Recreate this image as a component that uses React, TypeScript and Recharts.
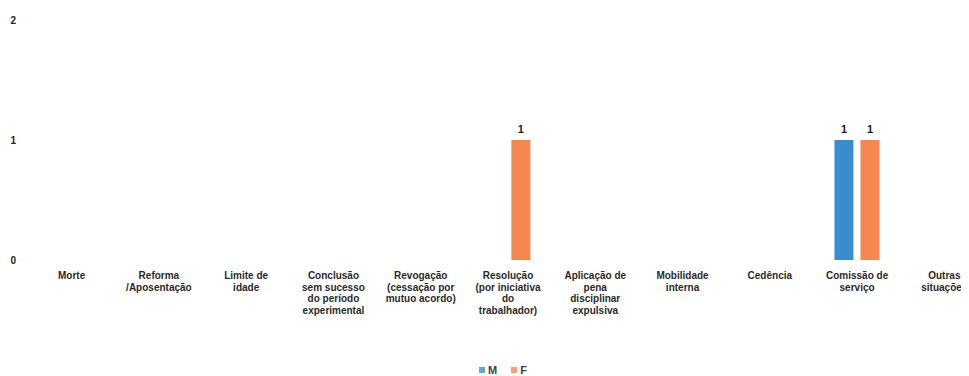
import { BarChart, Bar, XAxis, YAxis, Legend, LabelList } from 'recharts';

// categorias (quebras de linha como no gráfico original)
const categories = [
  'Morte',
  'Reforma\n/Aposentação',
  'Limite de\nidade',
  'Conclusão\nsem sucesso\ndo período\nexperimental',
  'Revogação\n(cessação por\nmutuo acordo)',
  'Resolução\n(por iniciativa\ndo\ntrabalhador)',
  'Aplicação de\npena\ndisciplinar\nexpulsiva',
  'Mobilidade\ninterna',
  'Cedência',
  'Comissão de\nserviço',
  'Outras\nsituações',
];

const valuesM = [0, 0, 0, 0, 0, 0, 0, 0, 0, 1, 0];
const valuesF = [0, 0, 0, 0, 0, 1, 0, 0, 0, 1, 0];

const yTicks = [0, 1, 2];

const COLOR_M = '#3A8DCC';
const COLOR_F = '#F5874F';
const FONT = '"Liberation Sans", Arial, sans-serif';

const chartData = categories.map((name, i) => ({
  name,
  M: valuesM[i],
  F: valuesF[i],
}));

const CategoryTick = ({ x, y, payload }: any) => {
  const lines = String(payload.value).split('\n');
  return (
    <text
      x={x}
      y={y}
      textAnchor="middle"
      fontSize={10}
      fontWeight="bold"
      fill="#2a2a2a"
      fontFamily={FONT}
    >
      {lines.map((line, i) => (
        <tspan key={i} x={x} dy={i === 0 ? 19 : 11.5}>
          {line}
        </tspan>
      ))}
    </text>
  );
};

const LegendContent = () => (
  <div
    style={{
      display: 'flex',
      justifyContent: 'center',
      alignItems: 'center',
      gap: 14,
      fontFamily: FONT,
      fontSize: 11,
      fontWeight: 'bold',
      color: '#404040',
    }}
  >
    {[
      { label: 'M', color: COLOR_M },
      { label: 'F', color: COLOR_F },
    ].map((item) => (
      <span key={item.label} style={{ display: 'flex', alignItems: 'center', gap: 3 }}>
        <span style={{ width: 6, height: 6, background: item.color, opacity: 0.8 }} />
        {item.label}
      </span>
    ))}
  </div>
);

const labelFormatter = (v: any) => (v ? v : '');

export default function App() {
  return (
    <BarChart
      width={990}
      height={376}
      data={chartData}
      margin={{ top: 12, right: 10, left: 0, bottom: 0 }}
      barSize={19}
      barGap={7}
    >
      <XAxis
        dataKey="name"
        axisLine={false}
        tickLine={false}
        tickSize={0}
        tickMargin={0}
        interval={0}
        height={104}
        tick={<CategoryTick />}
      />
      <YAxis
        domain={[0, 2]}
        ticks={yTicks}
        width={20}
        axisLine={false}
        tickLine={false}
        tickSize={0}
        tickMargin={12}
        tick={{ fontSize: 10, fontWeight: 'bold', fill: '#222', fontFamily: FONT }}
      />
      <Legend
        verticalAlign="bottom"
        height={20}
        content={<LegendContent />}
        wrapperStyle={{ left: 0, width: 990 }}
      />
      <Bar dataKey="M" fill={COLOR_M} isAnimationActive={false}>
        <LabelList
          dataKey="M"
          position="top"
          offset={7}
          formatter={labelFormatter}
          style={{ fontSize: 11, fontWeight: 'bold', fill: '#222', fontFamily: FONT }}
        />
      </Bar>
      <Bar dataKey="F" fill={COLOR_F} isAnimationActive={false}>
        <LabelList
          dataKey="F"
          position="top"
          offset={7}
          formatter={labelFormatter}
          style={{ fontSize: 11, fontWeight: 'bold', fill: '#222', fontFamily: FONT }}
        />
      </Bar>
    </BarChart>
  );
}
